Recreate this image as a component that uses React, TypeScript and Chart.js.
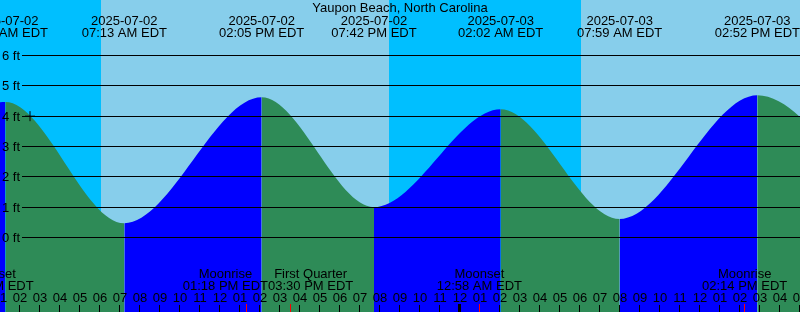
import React, { useEffect, useRef } from "react";
import { Chart, registerables } from "chart.js";

Chart.register(...registerables);

// ---------------- data ----------------
const stationName = "Yaupon Beach, North Carolina";
const zoneName = "EDT";

// tide extremes (local time) and heights in feet
const tideTimes = [
  "2025-07-01 19:05",
  "2025-07-02 01:16",
  "2025-07-02 07:13",
  "2025-07-02 14:05",
  "2025-07-02 19:42",
  "2025-07-03 02:02",
  "2025-07-03 07:59",
  "2025-07-03 14:52",
  "2025-07-03 21:15",
];
const tideHeights = [0.8, 4.47, 0.47, 4.62, 1.0, 4.23, 0.61, 4.69, 0.85];

// sun events
const sunTimes = ["2025-07-02 06:03", "2025-07-02 20:27", "2025-07-03 06:03"];
const sunEvents = ["Sunrise", "Sunset", "Sunrise"];

// moon events
const moonTimes = [
  "2025-07-02 00:33",
  "2025-07-02 13:18",
  "2025-07-02 15:30",
  "2025-07-03 00:58",
  "2025-07-03 14:14",
];
const moonEvents = ["Moonset", "Moonrise", "First Quarter", "Moonset", "Moonrise"];

// height axis ticks (ft)
const heightTicks = [0, 1, 2, 3, 4, 5, 6];

// "+" mark
const markTimes = ["2025-07-02 02:30"];
const markHeights = [4];

// visible time window
const windowStart = "2025-07-02 01:00";
const windowEnd = "2025-07-03 17:00";

// height axis range (ft)
const heightMin = -2.456;
const heightMax = 7.8297;

// ---------------- helpers ----------------
const NIGHT = "#00bfff";
const DAY = "#87ceeb";
const RISING = "#0000ff";
const FALLING = "#2e8b57";
const FONT = "13px 'Liberation Sans', Arial, Helvetica, sans-serif";

const pad2 = (n: number) => (n < 10 ? "0" + n : "" + n);

// hours since 2025-07-02 00:00
function hours(s: string): number {
  const day = Number(s.slice(8, 10));
  const hh = Number(s.slice(11, 13));
  const mm = Number(s.slice(14, 16));
  return (day - 2) * 24 + hh + mm / 60;
}
function fmtTime(s: string): string {
  const hh = Number(s.slice(11, 13));
  const mm = Number(s.slice(14, 16));
  const h12 = hh % 12 || 12;
  return `${pad2(h12)}:${pad2(mm)} ${hh < 12 ? "AM" : "PM"} ${zoneName}`;
}
function hourLabel(h: number): string {
  const hh = ((h % 24) + 24) % 24;
  return pad2(hh % 12 || 12);
}

function spread(items: { x: number; w: number }[]) {
  for (let i = 1; i < items.length; i++) {
    const a = items[i - 1];
    const b = items[i];
    const ov = (a.w + b.w) / 2 - (b.x - a.x);
    if (ov > 0) {
      a.x -= ov / 2;
      b.x += ov / 2;
    }
  }
}

const decorPlugin = {
  id: "tideDecor",
  beforeDatasetsDraw(chart: any) {
    const { ctx, chartArea: a, scales } = chart;
    const x = scales.x;
    const edges = [x.min, ...sunTimes.map(hours), x.max];
    ctx.save();
    for (let i = 0; i < edges.length - 1; i++) {
      const isDay = i === 0 ? sunEvents[0] !== "Sunrise" : sunEvents[i - 1] === "Sunrise";
      const l = Math.round(x.getPixelForValue(Math.max(edges[i], x.min)));
      const r = Math.round(x.getPixelForValue(Math.min(edges[i + 1], x.max)));
      ctx.fillStyle = isDay ? DAY : NIGHT;
      ctx.fillRect(l, a.top, r - l, a.bottom - a.top);
    }
    ctx.restore();
  },
  afterDatasetsDraw(chart: any) {
    const { ctx, chartArea: a, scales } = chart;
    const x = scales.x;
    const y = scales.y;
    ctx.save();
    ctx.font = FONT;
    ctx.fillStyle = "#000";

    // horizontal height lines and labels
    ctx.textAlign = "left";
    ctx.textBaseline = "alphabetic";
    for (const v of heightTicks) {
      const row = Math.floor(y.getPixelForValue(v));
      ctx.fillRect(22, row, a.right - 22, 1);
      ctx.fillText(`${v} ft`, 2, row + 5);
    }

    // title
    ctx.textAlign = "center";
    ctx.fillText(stationName, (a.left + a.right) / 2, 12);

    // tide extreme labels
    tideTimes.forEach((t) => {
      const px = x.getPixelForValue(hours(t));
      if (px < -60 || px > a.right + 60) return;
      ctx.fillText(t.slice(0, 10), px, 25);
      ctx.fillText(fmtTime(t), px, 37);
    });

    // hour labels and ticks
    const h0 = Math.ceil(x.min);
    const h1 = Math.floor(x.max);
    for (let h = h0; h <= h1; h++) {
      const px = x.getPixelForValue(h);
      ctx.fillStyle = "#000";
      ctx.fillText(hourLabel(h), px, 302);
      if (((h % 24) + 24) % 24 === 0) {
        ctx.fillRect(Math.round(px) - 2, 304, 3, a.bottom - 304);
      } else {
        ctx.fillRect(Math.round(px) - 1, 305, 1, a.bottom - 305);
      }
    }

    // moon events
    const items = moonTimes.map((t, i) => {
      const time = fmtTime(t);
      const w = Math.max(ctx.measureText(moonEvents[i]).width, ctx.measureText(time).width);
      return { t, x: x.getPixelForValue(hours(t)), w, name: moonEvents[i], time };
    });
    items.forEach((it) => {
      ctx.fillStyle = "#ff0000";
      ctx.fillRect(Math.floor(it.x), 304, 1, a.bottom - 304);
    });
    spread(items);
    ctx.fillStyle = "#000";
    items.forEach((it) => {
      ctx.fillText(it.name, it.x, 278);
      ctx.fillText(it.time, it.x, 290);
    });

    ctx.restore();
  },
};

export default function App() {
  const ref = useRef<HTMLCanvasElement>(null);

  useEffect(() => {
    document.body.style.margin = "0";
    const canvas = ref.current;
    if (!canvas) return;

    const tideData = tideTimes.map((t, i) => ({ x: hours(t), y: tideHeights[i] }));
    const markData = markTimes.map((t, i) => ({ x: hours(t), y: markHeights[i] }));

    const chart = new Chart(canvas, {
      type: "line",
      data: {
        datasets: [
          {
            type: "scatter" as any,
            data: markData,
            pointStyle: "cross",
            pointRadius: 5,
            pointBorderColor: "#000",
            pointBorderWidth: 1,
            pointBackgroundColor: "#000",
            showLine: false,
            order: 0,
          } as any,
          {
            data: tideData,
            borderColor: "rgba(0,0,0,0)",
            borderWidth: 0,
            pointRadius: 0,
            backgroundColor: FALLING,
            fill: "start",
            cubicInterpolationMode: "monotone",
            order: 1,
            segment: {
              backgroundColor: (c: any) => (c.p1.parsed.y > c.p0.parsed.y ? RISING : FALLING),
            },
          } as any,
        ],
      },
      options: {
        responsive: false,
        animation: false,
        devicePixelRatio: 1,
        layout: { padding: 0, autoPadding: false },
        plugins: {
          legend: { display: false },
          title: { display: false },
          tooltip: { enabled: false },
        },
        events: [],
        scales: {
          x: { type: "linear", min: hours(windowStart), max: hours(windowEnd), display: false },
          y: { type: "linear", min: heightMin, max: heightMax, display: false },
        },
      },
      plugins: [decorPlugin],
    });

    return () => chart.destroy();
  }, []);

  return (
    <div style={{ width: 800, height: 312 }}>
      <canvas ref={ref} width={800} height={312} style={{ display: "block", width: 800, height: 312 }} />
    </div>
  );
}
